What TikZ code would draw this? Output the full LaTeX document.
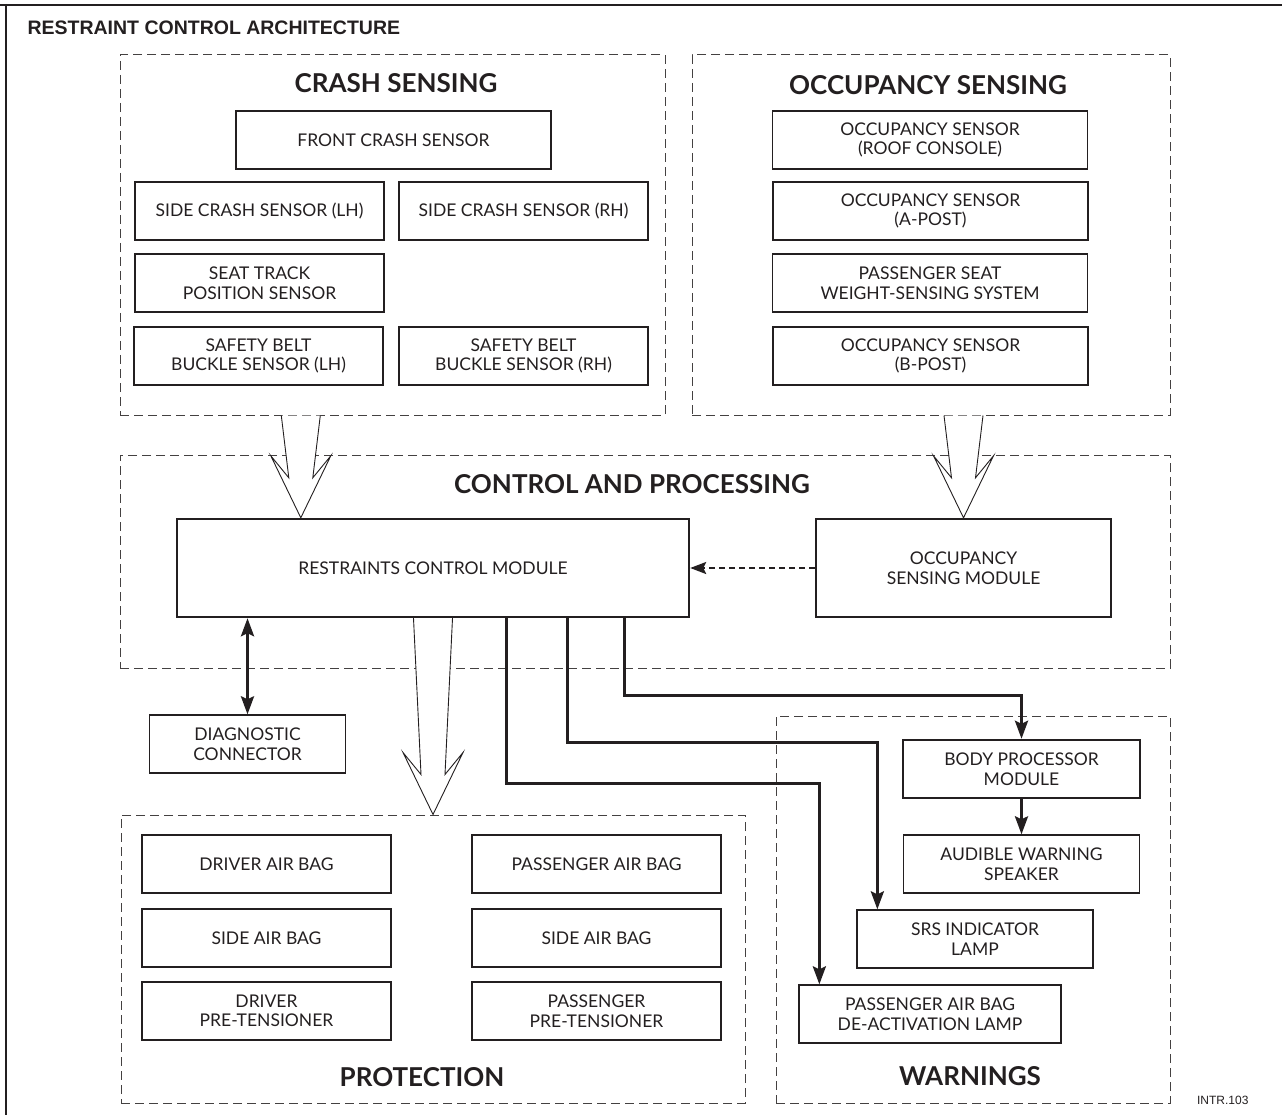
\documentclass[tikz,border=0pt]{standalone}
\usepackage{fontspec}
\setmainfont{Lato}
\newfontfamily\headfont{Liberation Sans}
\usetikzlibrary{arrows.meta,calc}

\definecolor{ink}{RGB}{35,31,32}

% hollow block arrow from the bottom of #1 down to the point #2
\newcommand{\bigarrow}[2]{%
  \draw[hollow] let \p1=(#1), \p2=(#2) in
    (\x2-19.5pt,\y1) -- (\x2-12pt,\y2+40pt) -- (\x2-30pt,\y2+62pt) -- (\x2,\y2)
    -- (\x2+30pt,\y2+62pt) -- (\x2+12pt,\y2+40pt) -- (\x2+19.5pt,\y1);}

\begin{document}
\begin{tikzpicture}[x=1pt,y=-1pt,
  box/.style={draw=ink, line width=1.3pt, align=center, inner sep=0pt,
    minimum height=58pt, text=ink, font=\fontsize{17.5}{19.5}\selectfont},
  module/.style={box, line width=2.4pt},
  group/.style={draw=ink!85, line width=1pt, dash pattern=on 9pt off 5pt, inner sep=0pt},
  grouptitle/.style={text=ink, font=\fontsize{26}{30}\selectfont\bfseries},
  wire/.style={draw=ink, line width=3pt, -{Stealth[length=18pt,width=13pt,inset=3pt]}},
  hollow/.style={draw=ink, line width=0.9pt, fill=white, line join=miter}]

\useasboundingbox (0,0) rectangle (1282,1115);

% Frame and title
\draw[ink, line width=2pt] (0,5) -- (1282,5);
\draw[ink, line width=2pt] (6,4) -- (6,1115);
\node[anchor=west, text=ink, font=\headfont\bfseries\fontsize{19.5}{22}\selectfont] (title) at (24,28) {RESTRAINT CONTROL ARCHITECTURE};
\node[anchor=east, text=ink, font=\headfont\fontsize{12}{14}\selectfont] (code) at (1252,1100) {INTR.103};

% Groups
\node[group, minimum width=545pt, minimum height=360pt] (crash) at (392.5,235) {};
\node[group, minimum width=478pt, minimum height=360pt] (occ) at (931,235) {};
\node[group, minimum width=1050pt, minimum height=213pt] (ctrl) at (645,561.5) {};
\node[group, minimum width=624pt, minimum height=288pt] (prot) at (433,959) {};
\node[group, minimum width=394pt, minimum height=387pt] (warn) at (973,909.5) {};

\node[grouptitle] (crashtitle) at (396,83) {CRASH SENSING};
\node[grouptitle] (occtitle) at (928,85) {OCCUPANCY SENSING};
\node[grouptitle] (ctrltitle) at (632,484) {CONTROL AND PROCESSING};
\node[grouptitle] (prottitle) at (422,1077) {PROTECTION};
\node[grouptitle] (warntitle) at (970,1076) {WARNINGS};

% Crash sensing
\node[box, minimum width=315pt] (front) at (393.5,140) {FRONT CRASH SENSOR};
\node[box, minimum width=249pt] (sidel) at (259.5,211) {SIDE CRASH SENSOR (LH)};
\node[box, minimum width=249pt] (sider) at (523.5,211) {SIDE CRASH SENSOR (RH)};
\node[box, minimum width=249pt] (seat) at (259.5,283) {SEAT TRACK\\POSITION SENSOR};
\node[box, minimum width=249pt] (beltl) at (258.5,356) {SAFETY BELT\\BUCKLE SENSOR (LH)};
\node[box, minimum width=249pt] (beltr) at (523.5,356) {SAFETY BELT\\BUCKLE SENSOR (RH)};

% Occupancy sensing
\node[box, minimum width=315pt] (occroof) at (930,140) {OCCUPANCY SENSOR\\(ROOF CONSOLE)};
\node[box, minimum width=315pt] (occa) at (930.5,211) {OCCUPANCY SENSOR\\(A-POST)};
\node[box, minimum width=315pt] (pseat) at (930,283) {PASSENGER SEAT\\WEIGHT-SENSING SYSTEM};
\node[box, minimum width=315pt] (occb) at (930.5,356) {OCCUPANCY SENSOR\\(B-POST)};

% Control and processing
\node[module, minimum width=512pt, minimum height=98pt] (rcm) at (433,568) {RESTRAINTS CONTROL MODULE};
\node[module, minimum width=295pt, minimum height=98pt] (osm) at (963.5,568) {OCCUPANCY\\SENSING MODULE};
\node[box, minimum width=196pt] (diag) at (247.5,744) {DIAGNOSTIC\\CONNECTOR};

% Protection
\node[box, minimum width=249pt] (dab) at (266.5,864) {DRIVER AIR BAG};
\node[box, minimum width=249pt] (sabl) at (266.5,938) {SIDE AIR BAG};
\node[box, minimum width=249pt] (dpt) at (266.5,1011) {DRIVER\\PRE-TENSIONER};
\node[box, minimum width=249pt] (pab) at (596.5,864) {PASSENGER AIR BAG};
\node[box, minimum width=249pt] (sabr) at (596.5,938) {SIDE AIR BAG};
\node[box, minimum width=249pt] (ppt) at (596.5,1011) {PASSENGER\\PRE-TENSIONER};

% Warnings
\node[module, minimum width=237pt] (bpm) at (1021.5,769) {BODY PROCESSOR\\MODULE};
\node[box, minimum width=236pt] (aws) at (1021.5,864) {AUDIBLE WARNING\\SPEAKER};
\node[box, minimum width=236pt] (srs) at (975,939) {SRS INDICATOR\\LAMP};
\node[box, minimum width=262pt] (pabd) at (930,1014) {PASSENGER AIR BAG\\DE-ACTIVATION LAMP};

% Block arrows
\bigarrow{crash.south}{$(rcm.north west)+(125,0)$}
\bigarrow{occ.south}{osm.north}
\bigarrow{rcm.south}{prot.north}

% Signal lines
\draw[ink, line width=2.5pt, dash pattern=on 6pt off 4pt,
  -{Stealth[length=16pt,width=12pt,inset=3pt]}] (osm.west) -- (rcm.east);
\draw[ink, line width=3pt, {Stealth[length=18pt,width=13pt,inset=3pt]}-{Stealth[length=18pt,width=13pt,inset=3pt]}]
  (rcm.south -| diag.north) -- (diag.north);
\draw[wire] ($(rcm.south west)+(331,0)$) -- ++(0,165) -| ($(pabd.north west)+(21,0)$);
\draw[wire] ($(rcm.south west)+(392,0)$) -- ++(0,124) -| ($(srs.north west)+(21,0)$);
\draw[wire] ($(rcm.south west)+(449,0)$) -- ++(0,77) -| (bpm.north);
\draw[wire] (bpm.south) -- (aws.north);

\end{tikzpicture}
\end{document}
